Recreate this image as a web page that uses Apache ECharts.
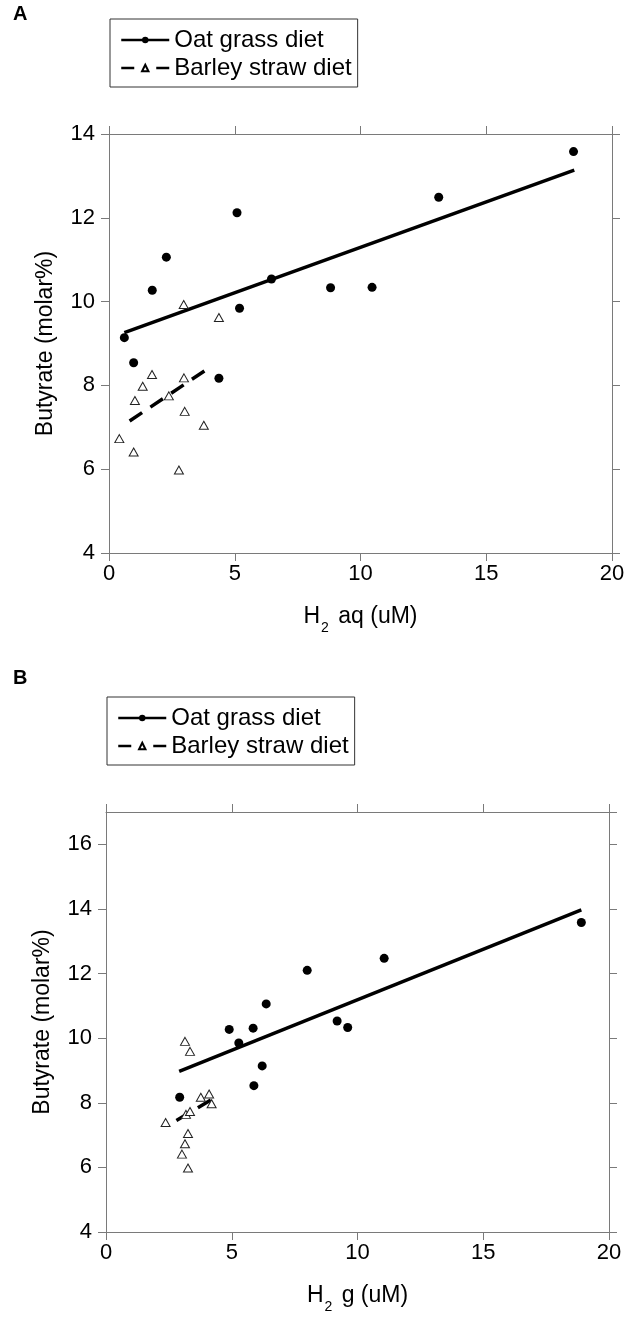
<!DOCTYPE html>
<html>
<head>
<meta charset="utf-8">
<script src="https://cdn.jsdelivr.net/npm/echarts@6/dist/echarts.min.js"></script>
<style>
html,body{margin:0;padding:0;background:#fff;}
#c{width:630px;height:1317px;}
</style>
</head>
<body>
<div id="c"></div>
<script>
// ---- Data ----
// Panel A: Butyrate vs H2 aq
const aOatX = [0.61, 0.98, 1.72, 2.28, 4.37, 5.09, 5.19, 6.46, 8.81, 10.46, 13.11, 18.47];
const aOatY = [9.14, 8.54, 10.27, 11.06, 8.17, 12.12, 9.84, 10.54, 10.33, 10.34, 12.49, 13.58];
const aBarX = [0.41, 0.98, 1.03, 1.34, 1.71, 2.38, 2.78, 2.97, 2.98, 3.01, 3.77, 4.37];
const aBarY = [6.73, 6.41, 7.64, 7.98, 8.26, 7.75, 5.98, 9.93, 8.18, 7.38, 7.05, 9.62];
const aOatFitX = [0.61, 18.5];
const aOatFitY = [9.26, 13.14];
const aBarFitX = [0.82, 4.03];
const aBarFitY = [7.15, 8.44];
// Panel B: Butyrate vs H2 g
const bOatX = [2.93, 4.9, 5.28, 5.85, 5.88, 6.21, 6.37, 8.0, 9.19, 9.61, 11.06, 18.9];
const bOatY = [8.17, 10.27, 9.85, 10.31, 8.53, 9.14, 11.06, 12.10, 10.53, 10.33, 12.47, 13.58];
const bBarX = [2.37, 3.02, 3.14, 3.14, 3.18, 3.26, 3.26, 3.34, 3.34, 3.77, 4.1, 4.2];
const bBarY = [7.39, 6.41, 9.90, 6.73, 7.64, 7.05, 5.98, 9.59, 7.73, 8.17, 8.27, 7.97];
const bOatFitX = [2.91, 18.9];
const bOatFitY = [8.97, 13.97];
const bBarFitX = [2.8, 4.2];
const bBarFitY = [7.45, 8.1];
// Text
const seriesNames = ['Oat grass diet', 'Barley straw diet'];
const panelLabels = ['A', 'B'];
const yTitle = 'Butyrate (molar%)';
const xTitleA = ['H', '2', ' aq (uM)'];
const xTitleB = ['H', '2', ' g (uM)'];

// ---- Helpers ----
const FONT = '"Liberation Sans", Arial, Helvetica, sans-serif';
const AX = '#7a7a7a';
const zip = (xs, ys) => xs.map((x, i) => [x, ys[i]]);

function axisX(gi, isTop, title) {
  const o = {
    type: 'value', gridIndex: gi, min: 0, max: 20, interval: 5,
    position: isTop ? 'top' : 'bottom',
    axisLine: { show: true, onZero: false, lineStyle: { color: AX, width: 1 } },
    axisTick: { show: true, inside: false, length: 8, lineStyle: { color: AX, width: 1 } },
    splitLine: { show: false },
    axisLabel: { show: !isTop, margin: 10, color: '#000', fontSize: 22, fontFamily: FONT }
  };
  if (!isTop) {
    o.name = '{h|' + title[0] + '}{s|' + title[1] + '}{h|' + title[2] + '}';
    o.nameLocation = 'middle';
    o.nameGap = 46;
    o.nameTextStyle = {
      rich: {
        h: { fontSize: 23, color: '#000', fontFamily: FONT },
        s: { fontSize: 14, color: '#000', fontFamily: FONT, padding: [22, 3, 0, 1] }
      }
    };
  }
  return o;
}
function axisY(gi, isRight, max) {
  const o = {
    type: 'value', gridIndex: gi, min: 4, max: max, interval: 2,
    position: isRight ? 'right' : 'left',
    axisLine: { show: true, onZero: false, lineStyle: { color: AX, width: 1 } },
    axisTick: { show: true, inside: false, length: 8, lineStyle: { color: AX, width: 1 } },
    splitLine: { show: false },
    axisLabel: { show: !isRight, margin: 14, color: '#000', fontSize: 22, fontFamily: FONT, showMaxLabel: max % 2 === 0 }
  };
  if (!isRight) {
    o.name = yTitle;
    o.nameLocation = 'middle';
    o.nameGap = 52;
    o.nameRotate = 90;
    o.nameTextStyle = { fontSize: 23, color: '#000', fontFamily: FONT };
  }
  return o;
}
function scatterOat(xi, yi, xs, ys) {
  return { type: 'scatter', name: seriesNames[0] + ' pts', xAxisIndex: xi, yAxisIndex: yi,
    data: zip(xs, ys), symbol: 'circle', symbolSize: 9,
    itemStyle: { color: '#000', opacity: 1 }, silent: true, z: 3 };
}
function scatterBar(xi, yi, xs, ys) {
  return { type: 'scatter', name: seriesNames[1] + ' pts', xAxisIndex: xi, yAxisIndex: yi,
    data: zip(xs, ys), symbol: 'triangle', symbolSize: [9, 8],
    itemStyle: { color: '#fff', borderColor: '#222', borderWidth: 1, opacity: 1 }, silent: true, z: 3 };
}
function fitLine(xi, yi, xs, ys, dashed) {
  return { type: 'line', name: dashed ? seriesNames[1] : seriesNames[0], xAxisIndex: xi, yAxisIndex: yi,
    data: zip(xs, ys), showSymbol: false,
    symbol: dashed ? 'triangle' : 'circle',
    itemStyle: dashed ? { color: '#fff', borderColor: '#000', borderWidth: 1 } : { color: '#000' },
    lineStyle: { color: '#000', width: 3.5, type: dashed ? [15, 10] : 'solid', cap: 'butt' },
    silent: true, z: 2, animation: false };
}
function legendAt(left, top) {
  return {
    orient: 'vertical', left: left, top: top,
    padding: [9, 6, 7, 10], itemGap: 4, itemWidth: 48, itemHeight: 8,
    borderColor: '#333', borderWidth: 1, borderRadius: 0,
    selectedMode: false,
    textStyle: { fontSize: 24, color: '#000', fontFamily: FONT },
    data: [
      { name: seriesNames[0], lineStyle: { width: 2.5, type: 'solid' } },
      { name: seriesNames[1], lineStyle: { width: 2.5, type: [13, 22] } }
    ]
  };
}

const chart = echarts.init(document.getElementById('c'), null, { renderer: 'canvas' });
chart.setOption({
  animation: false,
  backgroundColor: '#fff',
  title: [
    { text: panelLabels[0], left: 8, top: -1, textStyle: { fontSize: 20, fontWeight: 'bold', color: '#000', fontFamily: FONT } },
    { text: panelLabels[1], left: 8, top: 663, textStyle: { fontSize: 20, fontWeight: 'bold', color: '#000', fontFamily: FONT } }
  ],
  legend: [legendAt(110, 19), legendAt(107, 697)],
  grid: [
    { left: 109, top: 134, width: 503, height: 419, containLabel: false },
    { left: 106, top: 812, width: 503, height: 420, containLabel: false }
  ],
  xAxis: [axisX(0, false, xTitleA), axisX(0, true), axisX(1, false, xTitleB), axisX(1, true)],
  yAxis: [axisY(0, false, 14), axisY(0, true, 14), axisY(1, false, 17), axisY(1, true, 17)],
  series: [
    fitLine(0, 0, aOatFitX, aOatFitY, false),
    fitLine(0, 0, aBarFitX, aBarFitY, true),
    scatterOat(0, 0, aOatX, aOatY),
    scatterBar(0, 0, aBarX, aBarY),
    fitLine(2, 2, bOatFitX, bOatFitY, false),
    fitLine(2, 2, bBarFitX, bBarFitY, true),
    scatterOat(2, 2, bOatX, bOatY),
    scatterBar(2, 2, bBarX, bBarY)
  ]
});
</script>
</body>
</html>
